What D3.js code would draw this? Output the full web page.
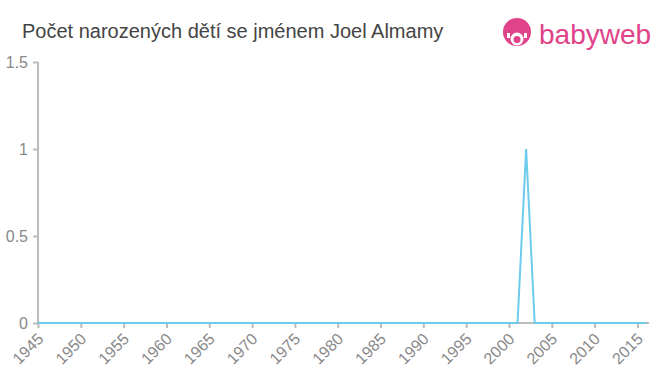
<!DOCTYPE html>
<html>
<head>
    <title>Joel Almamy</title>
    <script src="https://d3js.org/d3.v7.min.js"></script>
    <style>
        body { margin: 0; background: #fff; }
        svg { font-family: "Liberation Sans", Arial, sans-serif; }
    </style>
</head>
<body>
    <svg id="chart"></svg>
    <script>
        const width = 660;
        const height = 375;

        // data
        const years = d3.range(1945, 2017);
        const counts = years.map(y => (y === 2002 ? 1 : 0));
        const yTicks = [0, 0.5, 1, 1.5];
        const xTicks = d3.range(1945, 2016, 5);

        const margin = { left: 38, right: 11, top: 62, bottom: 52 };

        const svg = d3.select("#chart")
            .attr("width", width)
            .attr("height", height);

        const x = d3.scaleLinear()
            .domain([1945, 2016.35])
            .range([margin.left, width - margin.right]);

        const y = d3.scaleLinear()
            .domain([0, 1.5])
            .range([height - margin.bottom, margin.top]);

        // title
        svg.append("text")
            .attr("x", 22)
            .attr("y", 38)
            .style("font-size", "20px")
            .style("fill", "#444")
            .text("Počet narozených dětí se jménem Joel Almamy");

        // logo
        const logo = svg.append("g").attr("transform", "translate(517,32)");
        logo.append("circle").attr("r", 14).attr("fill", "#e0438a");
        logo.append("circle").attr("cx", 0).attr("cy", 7).attr("r", 6.5).attr("fill", "#fff");
        logo.append("circle").attr("cx", 0).attr("cy", 7.5).attr("r", 3.5).attr("fill", "#e0438a");
        logo.append("rect").attr("x", -10).attr("y", 1).attr("width", 3).attr("height", 5).attr("fill", "#fff");
        logo.append("rect").attr("x", 7).attr("y", 1).attr("width", 3).attr("height", 5).attr("fill", "#fff");
        svg.append("text")
            .attr("x", 539)
            .attr("y", 44)
            .style("font-size", "28px")
            .style("fill", "#e0438a")
            .text("babyweb");

        // y axis
        const yAxis = svg.append("g")
            .attr("transform", `translate(${margin.left},0)`)
            .call(d3.axisLeft(y).tickValues(yTicks).tickSize(5).tickPadding(5).tickFormat(d3.format("")));
        yAxis.select(".domain").attr("stroke", "#bbb").attr("stroke-width", 2).attr("d", `M0,${y(1.5)}V${y(0)}`);
        yAxis.selectAll(".tick line").attr("stroke", "#bbb").attr("stroke-width", 2).attr("x1", 0).attr("x2", -5);
        yAxis.selectAll(".tick text")
            .style("font-size", "16px")
            .style("fill", "#888")
            .attr("dy", "0.35em");

        // x axis
        const xAxis = svg.append("g")
            .attr("transform", `translate(0,${y(0)})`)
            .call(d3.axisBottom(x).tickValues(xTicks).tickSize(5).tickFormat(d3.format("d")));
        xAxis.select(".domain").attr("stroke", "#bbb").attr("stroke-width", 2).attr("d", `M${margin.left},0H${width - margin.right}`);
        xAxis.selectAll(".tick line").attr("stroke", "#bbb").attr("stroke-width", 2);
        xAxis.selectAll(".tick text")
            .style("font-size", "16px")
            .style("fill", "#888")
            .attr("text-anchor", "end")
            .attr("dy", "0")
            .attr("y", 0)
            .attr("transform", "translate(6,17) rotate(-45)");

        // line
        const line = d3.line()
            .x((d, i) => x(years[i]))
            .y(d => y(d));

        svg.append("path")
            .datum(counts)
            .attr("fill", "none")
            .attr("stroke", "#6ccbec")
            .attr("stroke-width", 2)
            .attr("d", line);
    </script>
</body>
</html>
